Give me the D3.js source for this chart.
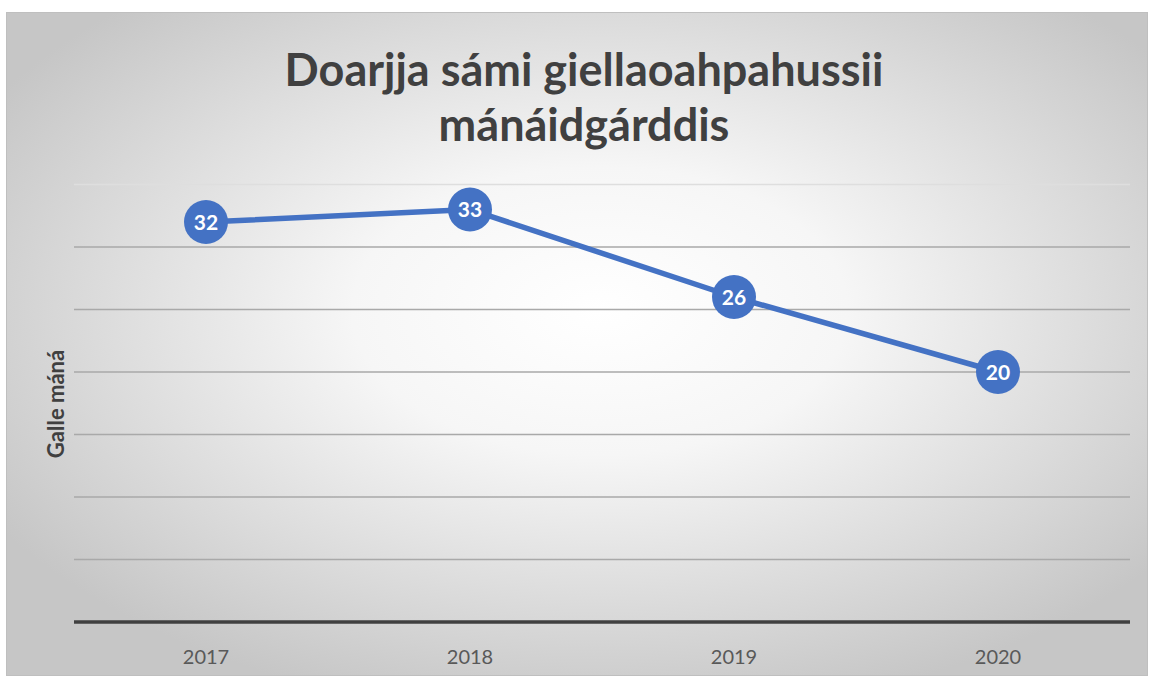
<!DOCTYPE html>
<html>
<head>
<meta charset="utf-8">
<script src="https://cdn.jsdelivr.net/npm/d3@7"></script>
<style>
  body { margin: 0; background: #fff; }
  svg { display: block; }
</style>
</head>
<body>
<div id="chart"></div>
<script>
const years = ["2017", "2018", "2019", "2020"];
const children = [32, 33, 26, 20];
const yTicks = [0, 5, 10, 15, 20, 25, 30, 35];
const titleLines = ["Doarjja sámi giellaoahpahussii", "mánáidgárddis"];
const yTitle = "Galle máná";

const width = 1149, height = 677;
const plot = { left: 74, right: 1130, top: 184.5, bottom: 622 };

const svg = d3.select("#chart").append("svg")
  .attr("width", width)
  .attr("height", height);

// background gradient, white in the middle, grey towards the edges
const defs = svg.append("defs");
const grad = defs.append("radialGradient")
  .attr("id", "bg")
  .attr("cx", "52%").attr("cy", "45%").attr("r", "62%");
grad.append("stop").attr("offset", "0%").attr("stop-color", "#ffffff");
grad.append("stop").attr("offset", "35%").attr("stop-color", "#f6f6f6");
grad.append("stop").attr("offset", "100%").attr("stop-color", "#c6c6c6");

svg.append("rect")
  .attr("x", 6.5).attr("y", 12.5)
  .attr("width", 1141).attr("height", 663)
  .attr("fill", "url(#bg)")
  .attr("stroke", "#bfbfbf")
  .attr("stroke-width", 1);

const x = d3.scaleBand()
  .domain(years)
  .range([plot.left, plot.right]);

const y = d3.scaleLinear()
  .domain([0, 35])
  .range([plot.bottom, plot.top]);

// gridlines
svg.append("g")
  .selectAll("line")
  .data(yTicks.filter(d => d > 0))
  .join("line")
  .attr("x1", plot.left).attr("x2", plot.right)
  .attr("y1", d => y(d)).attr("y2", d => y(d))
  .attr("stroke", d => d === 35 ? "#dedede" : "#a9a9a9")
  .attr("stroke-width", 1.5);

// baseline
svg.append("line")
  .attr("x1", plot.left).attr("x2", plot.right)
  .attr("y1", y(0)).attr("y2", y(0))
  .attr("stroke", "#404040")
  .attr("stroke-width", 3.5);

// x labels
svg.append("g")
  .selectAll("text")
  .data(years)
  .join("text")
  .attr("x", d => x(d) + x.bandwidth() / 2)
  .attr("y", 664)
  .attr("text-anchor", "middle")
  .attr("font-family", "Lato, 'Open Sans', sans-serif")
  .attr("font-size", 20)
  .attr("fill", "#595959")
  .text(d => d);

// y axis title
svg.append("text")
  .attr("transform", "translate(64,404) rotate(-90)")
  .attr("text-anchor", "middle")
  .attr("font-family", "Lato, 'Open Sans', sans-serif")
  .attr("font-weight", "bold")
  .attr("font-size", 22)
  .attr("fill", "#404040")
  .text(yTitle);

// title
svg.append("g")
  .selectAll("text")
  .data(titleLines)
  .join("text")
  .attr("x", 584)
  .attr("y", (d, i) => 86 + i * 55)
  .attr("text-anchor", "middle")
  .attr("font-family", "Lato, 'Open Sans', sans-serif")
  .attr("font-weight", "bold")
  .attr("font-size", 45)
  .attr("fill", "#404040")
  .text(d => d);

const pts = years.map((yr, i) => ({ year: yr, value: children[i] }));

const line = d3.line()
  .x(d => x(d.year) + x.bandwidth() / 2)
  .y(d => y(d.value));

svg.append("path")
  .datum(pts)
  .attr("d", line)
  .attr("fill", "none")
  .attr("stroke", "#4472c4")
  .attr("stroke-width", 5.5)
  .attr("stroke-linejoin", "round");

const marks = svg.append("g")
  .selectAll("g")
  .data(pts)
  .join("g")
  .attr("transform", d => `translate(${x(d.year) + x.bandwidth() / 2},${y(d.value)})`);

marks.append("circle")
  .attr("r", 22)
  .attr("fill", "#4472c4");

marks.append("text")
  .attr("text-anchor", "middle")
  .attr("dy", "0.36em")
  .attr("font-family", "Lato, 'Open Sans', sans-serif")
  .attr("font-weight", "bold")
  .attr("font-size", 21)
  .attr("fill", "#ffffff")
  .text(d => d.value);
</script>
</body>
</html>
